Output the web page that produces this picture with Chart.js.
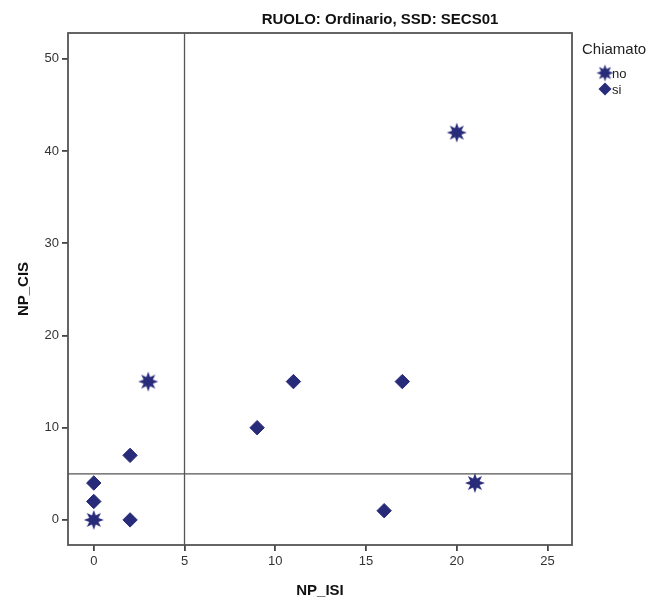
<!DOCTYPE html>
<html>
<head>
<meta charset="utf-8">
<script src="https://cdn.jsdelivr.net/npm/chart.js@4/dist/chart.umd.min.js"></script>
<style>
html,body{margin:0;padding:0;background:#fff;}
#c{display:block;}
</style>
</head>
<body>
<canvas id="c" width="670" height="600" style="width:670px;height:600px"></canvas>
<script>
const chartTitle = 'RUOLO: Ordinario, SSD: SECS01';
const legendTitle = 'Chiamato';
const seriesNames = ['no', 'si'];
const noX = [3, 20, 21, 0];
const noY = [15, 42, 4, 0];
const siX = [0, 0, 2, 2, 9, 11, 17, 16];
const siY = [4, 2, 7, 0, 10, 15, 15, 1];
const xTicks = [0, 5, 10, 15, 20, 25];
const yTicks = [0, 10, 20, 30, 40, 50];
const refX = 5;
const refY = 5;
const xRange = [-1.42, 26.35];
const yRange = [-2.72, 52.8];

const NAVY = '#272b7a';
const AXIS = '#555555';
const FONT = '"Liberation Sans", Arial, sans-serif';

function makeStar(outer, inner, points) {
  const s = Math.ceil(outer * 2 + 2);
  const cv = document.createElement('canvas');
  cv.width = s; cv.height = s;
  const g = cv.getContext('2d');
  g.fillStyle = NAVY;
  g.beginPath();
  for (let i = 0; i < points * 2; i++) {
    const r = i % 2 === 0 ? outer : inner;
    const a = -Math.PI / 2 + i * Math.PI / points;
    const px = s / 2 + r * Math.cos(a), py = s / 2 + r * Math.sin(a);
    if (i === 0) g.moveTo(px, py); else g.lineTo(px, py);
  }
  g.closePath();
  g.fill();
  return cv;
}
const starImg = makeStar(10, 5, 8);
const starSmall = makeStar(8.5, 4.3, 8);

const zip = (xs, ys) => xs.map((x, i) => ({x: x, y: ys[i]}));

const framePlugin = {
  id: 'frame',
  beforeDatasetsDraw(chart) {
    const {ctx, chartArea: a} = chart;
    ctx.save();
    ctx.strokeStyle = AXIS;
    ctx.lineWidth = 1.8;
    ctx.strokeRect(a.left, a.top, a.right - a.left, a.bottom - a.top);
    ctx.restore();
  },
  afterDraw(chart) {
    const {ctx, chartArea: a} = chart;
    ctx.save();
    ctx.fillStyle = '#111';
    ctx.font = 'bold 15px ' + FONT;
    ctx.textAlign = 'center';
    ctx.textBaseline = 'middle';
    ctx.fillText(chartTitle, a.left + 312, 20);
    // legend
    ctx.textAlign = 'left';
    ctx.font = '15px ' + FONT;
    ctx.fillStyle = '#222';
    ctx.fillText(legendTitle, a.right + 10, 50);
    ctx.font = '13px ' + FONT;
    const ds = chart.data.datasets;
    const rows = [{y: 73, ds: ds[0], style: starSmall, r: 8}, {y: 89, ds: ds[1], style: 'rectRot', r: 6.5}];
    rows.forEach(row => {
      if (row.style === 'rectRot') {
        ctx.fillStyle = NAVY;
        ctx.beginPath();
        ctx.moveTo(a.right + 33 - row.r, row.y);
        ctx.lineTo(a.right + 33, row.y - row.r);
        ctx.lineTo(a.right + 33 + row.r, row.y);
        ctx.lineTo(a.right + 33, row.y + row.r);
        ctx.closePath();
        ctx.fill();
      } else {
        Chart.helpers.drawPoint(ctx, {pointStyle: row.style, radius: row.r, borderWidth: 0, rotation: 0}, a.right + 33, row.y);
      }
      ctx.fillStyle = '#222';
      ctx.fillText(row.ds.label, a.right + 40, row.y + 1);
    });
    ctx.restore();
  }
};

new Chart(document.getElementById('c'), {
  data: {
    datasets: [
      {type: 'scatter', label: seriesNames[0], data: zip(noX, noY), pointStyle: starImg, radius: 10, hoverRadius: 10, backgroundColor: NAVY, borderColor: NAVY, order: 1},
      {type: 'scatter', label: seriesNames[1], data: zip(siX, siY), pointStyle: 'rectRot', radius: 7.2, hoverRadius: 7.2, backgroundColor: NAVY, borderColor: NAVY, borderWidth: 1, order: 2},
      {type: 'line', label: 'refx', data: [{x: refX, y: yRange[0]}, {x: refX, y: yRange[1]}], borderColor: AXIS, borderWidth: 1.3, pointRadius: 0, fill: false, order: 3},
      {type: 'line', label: 'refy', data: [{x: xRange[0], y: refY}, {x: xRange[1], y: refY}], borderColor: AXIS, borderWidth: 1.3, pointRadius: 0, fill: false, order: 3}
    ]
  },
  options: {
    responsive: false,
    animation: false,
    devicePixelRatio: 1,
    layout: {padding: {top: 33, right: 98, left: 0, bottom: 0}},
    plugins: {legend: {display: false}, title: {display: false}, tooltip: {enabled: false}},
    scales: {
      x: {
        type: 'linear', min: xRange[0], max: xRange[1],
        afterBuildTicks: s => { s.ticks = xTicks.map(v => ({value: v})); },
        afterFit: s => { s.height = 55; },
        border: {display: false},
        grid: {display: true, drawOnChartArea: false, drawTicks: true, tickLength: 6, color: '#444', lineWidth: 1.8},
        ticks: {color: '#333', padding: 3, font: {family: FONT, size: 13}, maxRotation: 0},
        title: {display: true, text: 'NP_ISI', color: '#111', font: {family: FONT, size: 15, weight: 'bold'}, padding: {top: 0, bottom: 0}}
      },
      y: {
        type: 'linear', min: yRange[0], max: yRange[1],
        afterBuildTicks: s => { s.ticks = yTicks.map(v => ({value: v})); },
        afterFit: s => { s.width = 68; },
        border: {display: false},
        grid: {display: true, drawOnChartArea: false, drawTicks: true, tickLength: 6, color: '#444', lineWidth: 1.8},
        ticks: {color: '#333', padding: 3, font: {family: FONT, size: 13}},
        title: {display: true, text: 'NP_CIS', color: '#111', font: {family: FONT, size: 15, weight: 'bold'}, padding: {top: 15, bottom: 0}}
      }
    }
  },
  plugins: [framePlugin]
});
</script>
</body>
</html>
